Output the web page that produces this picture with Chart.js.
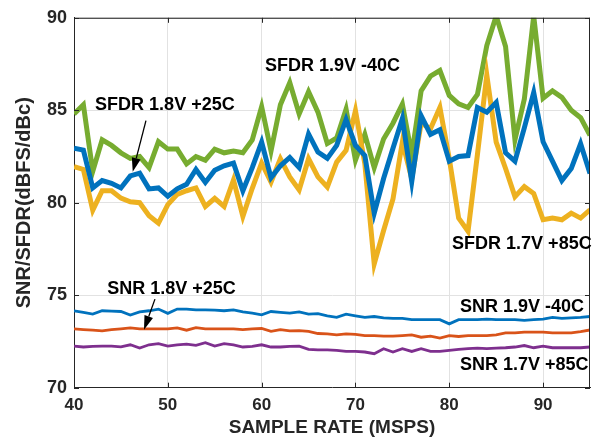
<!DOCTYPE html>
<html>
<head>
<meta charset="utf-8">
<script src="https://cdn.jsdelivr.net/npm/chart.js@4.4.0/dist/chart.umd.min.js"></script>
<style>
  html, body { margin: 0; padding: 0; background: #ffffff; }
  #wrap { width: 595px; height: 441px; }
</style>
</head>
<body>
<div id="wrap"><canvas id="c" width="595" height="441"></canvas></div>
<script>
// Sample rate (MSPS)
const sampleRate = [40,41,42,43,44,45,46,47,48,49,50,51,52,53,54,55,56,57,58,59,
  60,61,62,63,64,65,66,67,68,69,70,71,72,73,74,75,76,77,78,79,
  80,81,82,83,84,85,86,87,88,89,90,91,92,93,94,95];

// SFDR (dBc)
const sfdr19Vm40 = [84.8,85.3,81.7,83.4,83.1,82.7,82.4,82.5,81.9,83.3,
  82.9,82.9,82.1,82.5,82.3,82.9,82.7,82.8,82.7,83.4,
  85.2,82.8,85.3,86.5,84.8,86.0,84.9,83.2,83.5,85.06,
  82.3,83.7,81.9,83.45,84.3,85.33,82.6,86.05,86.85,87.15,
  85.8,85.35,85.15,85.85,88.5,90.1,88.45,83.4,85.6,90.1,
  85.65,86.05,85.7,85.0,84.6,83.65];
const sfdr18Vp25 = [82.95,82.85,80.8,81.2,81.05,80.8,81.45,81.6,80.75,80.8,
  80.35,80.75,81.0,81.8,81.1,81.76,82.0,82.15,80.65,81.9,
  83.28,81.35,82.0,82.45,81.9,83.72,82.74,82.4,83.1,84.5,
  83.1,82.55,79.44,81.31,82.95,84.55,81.14,84.7,83.7,83.95,
  82.25,82.5,82.55,85.15,84.9,85.42,82.7,82.25,84.05,85.96,
  83.3,82.25,81.2,81.85,83.19,81.58];
const sfdr17Vp85 = [81.95,81.8,79.6,80.65,80.65,80.25,80.05,80.0,79.3,78.9,
  79.9,80.45,80.65,80.8,79.8,80.24,79.8,81.23,79.26,80.78,
  82.15,81.12,82.38,81.4,80.69,82.38,81.4,80.85,82.2,82.83,
  84.98,82.1,76.7,78.5,80.2,83.28,81.3,84.3,84.0,85.15,
  82.38,79.17,78.46,82.6,86.9,83.28,81.85,80.33,80.87,80.5,
  79.08,79.17,79.08,79.44,79.17,79.62];

// SNR (dBFS)
const snr19Vm40 = [74.16,74.07,73.98,74.16,74.14,74.12,73.93,74.1,74.16,74.25,
  74.02,74.25,74.25,74.21,74.21,74.19,74.16,74.21,74.1,74.03,
  73.94,74.12,74.07,74.03,74.1,73.98,74.0,73.89,73.8,73.98,
  73.89,73.8,73.85,73.78,73.75,73.75,73.68,73.68,73.68,73.68,
  73.45,73.68,73.68,73.68,73.71,73.68,73.68,73.68,73.64,73.68,
  73.71,73.8,73.75,73.78,73.8,73.85];
const snr18Vp25 = [73.18,73.14,73.11,73.07,73.14,73.18,73.23,73.18,73.18,73.18,
  73.18,73.23,73.11,73.25,73.18,73.18,73.18,73.18,73.14,73.18,
  73.2,73.05,73.14,73.07,73.09,73.05,72.93,72.91,72.86,72.91,
  72.88,72.82,72.82,72.79,72.79,72.82,72.86,72.73,72.79,72.68,
  72.82,72.77,72.82,72.82,72.82,72.86,72.96,72.96,73.0,73.0,
  73.0,72.96,72.96,72.96,73.03,73.12];
const snr17Vp85 = [72.25,72.2,72.23,72.25,72.25,72.21,72.32,72.14,72.32,72.38,
  72.25,72.32,72.36,72.29,72.43,72.25,72.38,72.32,72.2,72.23,
  72.32,72.2,72.2,72.23,72.25,72.07,72.05,72.05,72.02,71.96,
  71.96,71.93,71.84,72.11,71.93,72.11,71.96,72.11,71.96,71.96,
  72.02,72.07,72.11,72.14,72.11,72.14,72.16,72.2,72.28,72.16,
  72.25,72.16,72.16,72.16,72.16,72.2];

// Axis ticks
const xTicks = [40, 50, 60, 70, 80, 90];
const yTicks = [70, 75, 80, 85, 90];

// Curve labels (data coordinates of left/middle of text) and pointer arrows
const labels = [
  { text: 'SFDR 1.9V -40C', x: 60.36, y: 87.40 },
  { text: 'SFDR 1.8V +25C', x: 42.25, y: 85.30 },
  { text: 'SFDR 1.7V +85C', x: 80.30, y: 77.76 },
  { text: 'SNR 1.8V +25C',  x: 43.55, y: 75.36 },
  { text: 'SNR 1.9V -40C',  x: 81.14, y: 74.34 },
  { text: 'SNR 1.7V +85C',  x: 81.14, y: 71.21 }
];
const arrows = [
  { from: [47.67, 84.44], to: [46.26, 81.67] },
  { from: [48.63, 74.79], to: [47.46, 73.14] }
];

const FONT = '"Liberation Sans", Arial, Helvetica, sans-serif';
const AXIS = '#262626';

const toXY = ys => sampleRate.map((x, i) => ({ x: x, y: ys[i] }));
const series = (label, ys, color, width) => ({
  label: label, data: toXY(ys), borderColor: color, backgroundColor: color,
  borderWidth: width, pointRadius: 0, tension: 0, fill: false, clip: 0
});

// Box outline, inward tick marks, curve labels and arrows
const decorations = {
  id: 'decorations',
  afterDatasetsDraw(chart) {
    const { ctx, chartArea: a, scales: { x, y } } = chart;
    ctx.save();
    ctx.strokeStyle = AXIS;
    ctx.lineWidth = 1;
    ctx.beginPath();
    ctx.moveTo(a.left, a.top + 0.5); ctx.lineTo(a.right, a.top + 0.5);
    ctx.moveTo(a.right - 0.5, a.top); ctx.lineTo(a.right - 0.5, a.bottom);
    xTicks.forEach(v => {
      const px = Math.round(x.getPixelForValue(v)) + 0.5;
      ctx.moveTo(px, a.bottom); ctx.lineTo(px, a.bottom - 5);
      ctx.moveTo(px, a.top); ctx.lineTo(px, a.top + 5);
    });
    yTicks.forEach(v => {
      const py = Math.round(y.getPixelForValue(v)) + 0.5;
      ctx.moveTo(a.left, py); ctx.lineTo(a.left + 5, py);
      ctx.moveTo(a.right, py); ctx.lineTo(a.right - 5, py);
    });
    ctx.stroke();

    ctx.fillStyle = '#000000';
    ctx.font = 'bold 18px ' + FONT;
    ctx.textAlign = 'left';
    ctx.textBaseline = 'middle';
    labels.forEach(l => ctx.fillText(l.text, x.getPixelForValue(l.x), y.getPixelForValue(l.y)));

    ctx.strokeStyle = '#000000';
    ctx.lineWidth = 1.3;
    arrows.forEach(ar => {
      const x0 = x.getPixelForValue(ar.from[0]), y0 = y.getPixelForValue(ar.from[1]);
      const x1 = x.getPixelForValue(ar.to[0]), y1 = y.getPixelForValue(ar.to[1]);
      const ang = Math.atan2(y1 - y0, x1 - x0);
      const len = 14, half = 4.5;
      const bx = x1 - len * Math.cos(ang), by = y1 - len * Math.sin(ang);
      ctx.beginPath(); ctx.moveTo(x0, y0); ctx.lineTo(bx, by); ctx.stroke();
      ctx.beginPath();
      ctx.moveTo(x1, y1);
      ctx.lineTo(bx + half * Math.sin(ang), by - half * Math.cos(ang));
      ctx.lineTo(bx - half * Math.sin(ang), by + half * Math.cos(ang));
      ctx.closePath(); ctx.fill();
    });
    ctx.restore();
  }
};

new Chart(document.getElementById('c'), {
  type: 'line',
  data: {
    datasets: [
      series('SFDR 1.8V +25C', sfdr18Vp25, '#0072BD', 5),
      series('SFDR 1.7V +85C', sfdr17Vp85, '#EDB120', 5),
      series('SFDR 1.9V -40C', sfdr19Vm40, '#77AC30', 5),
      series('SNR 1.9V -40C', snr19Vm40, '#0072BD', 2.8),
      series('SNR 1.8V +25C', snr18Vp25, '#D95319', 2.8),
      series('SNR 1.7V +85C', snr17Vp85, '#7E2F8E', 2.8)
    ]
  },
  options: {
    responsive: false,
    animation: false,
    devicePixelRatio: 1,
    layout: { padding: { top: 14.5, right: 5, left: 0, bottom: 0 } },
    plugins: { legend: { display: false }, tooltip: { enabled: false } },
    scales: {
      x: {
        type: 'linear', min: 40, max: 95,
        afterBuildTicks: s => { s.ticks = xTicks.map(v => ({ value: v })); },
        afterFit: s => { s.height = 53.3; },
        grid: { color: '#e2e2e2', drawTicks: false },
        border: { color: AXIS, width: 1 },
        ticks: { font: { family: FONT, size: 17, weight: 'bold' }, color: AXIS, padding: 7, maxRotation: 0, autoSkip: false },
        title: { display: true, text: 'SAMPLE RATE (MSPS)', color: AXIS,
                 font: { family: FONT, size: 19, weight: 'bold' }, padding: { top: 0, bottom: 2 } }
      },
      y: {
        min: 70, max: 90,
        afterBuildTicks: s => { s.ticks = yTicks.map(v => ({ value: v })); },
        afterFit: s => { s.width = 74; },
        grid: { color: '#e2e2e2', drawTicks: false },
        border: { color: AXIS, width: 1 },
        ticks: { font: { family: FONT, size: 18, weight: 'bold' }, color: AXIS, padding: 7 },
        title: { display: true, text: 'SNR/SFDR(dBFS/dBc)', color: AXIS,
                 font: { family: FONT, size: 20, weight: 'bold' }, padding: { top: 12, bottom: 0 } }
      }
    }
  },
  plugins: [decorations]
});
</script>
</body>
</html>
